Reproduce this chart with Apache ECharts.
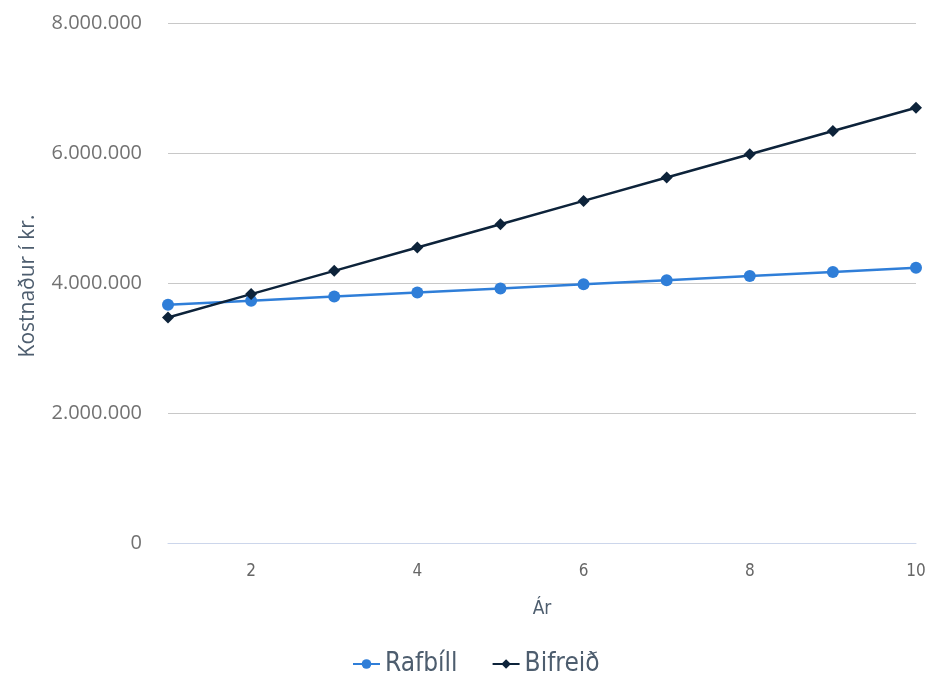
<!DOCTYPE html>
<html><head><meta charset="utf-8">
<script src="https://cdn.jsdelivr.net/npm/echarts@6/dist/echarts.min.js"></script>
<style>html,body{margin:0;padding:0;background:#fff}#c{width:930px;height:674px}</style>
</head><body><div id="c"></div>
<script>
const years = [1,2,3,4,5,6,7,8,9,10];
const rafbill = [3665000,3728000,3791000,3854000,3917000,3980000,4043000,4106000,4169000,4235000];
const bifreid = [3470000,3829000,4187000,4546000,4904000,5263000,5622000,5980000,6339000,6697000];
const seriesNames = ['Rafbíll','Bifreið'];

const COND = '"DejaVu Sans Condensed", "Liberation Sans Narrow", sans-serif';
const SANS = '"Open Sans", "Noto Sans", sans-serif';
function fmt(v){return String(v).replace(/\B(?=(\d{3})+(?!\d))/g,'.');}
const chart = echarts.init(document.getElementById('c'));
chart.setOption({
  animation:false,
  color:['#2f7ed8','#0d233a'],
  grid:{left:168,right:14,top:23,bottom:131},
  legend:{top:646,left:347,itemWidth:27,itemHeight:12,itemGap:34,
    textStyle:{fontFamily:COND,fontSize:26,color:'#4d5d6e'},data:seriesNames},
  xAxis:{type:'value',min:1,max:10,interval:1,
    name:'Ár',nameLocation:'middle',nameGap:57,
    nameTextStyle:{fontFamily:COND,fontSize:19,color:'#4d5d6e'},
    axisLine:{lineStyle:{color:'#ccd6eb'}},axisTick:{show:false},splitLine:{show:false},
    axisLabel:{fontFamily:COND,fontSize:17,color:'#666',margin:20,
      formatter:v=>(v%2===0?String(v):'')}},
  yAxis:{type:'value',min:0,max:8000000,interval:2000000,
    name:'Kostnaður í kr.',nameLocation:'middle',nameGap:129,
    nameTextStyle:{fontFamily:SANS,fontSize:21,color:'#4d5d6e',padding:[0,6,0,0]},
    axisLine:{show:false},axisTick:{show:false},
    splitLine:{lineStyle:{color:'#c8c8c8',width:1}},
    axisLabel:{fontFamily:SANS,fontSize:20,color:'#727272',margin:26,formatter:fmt}},
  series:[
    {name:seriesNames[0],type:'line',data:years.map((y,i)=>[y,rafbill[i]]),
     symbol:'circle',symbolSize:12,lineStyle:{width:2.5},itemStyle:{color:'#2f7ed8'}},
    {name:seriesNames[1],type:'line',data:years.map((y,i)=>[y,bifreid[i]]),
     symbol:'diamond',symbolSize:12,lineStyle:{width:2.5},itemStyle:{color:'#0d233a'}}
  ]
});
</script></body></html>
